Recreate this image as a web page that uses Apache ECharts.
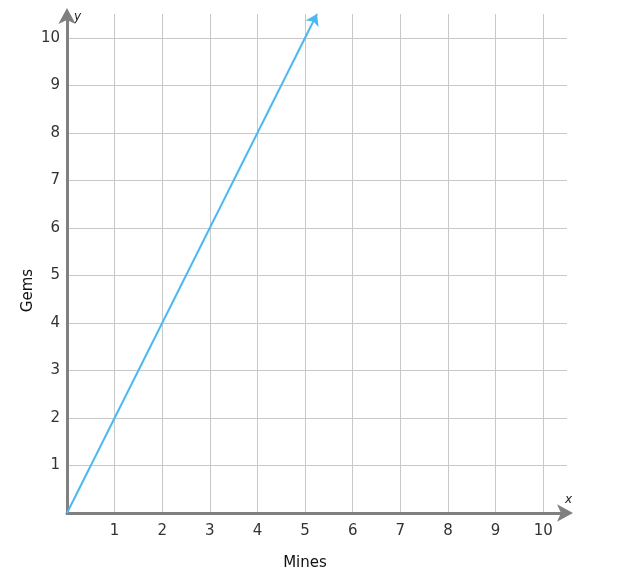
<!DOCTYPE html>
<html>
<head>
<meta charset="utf-8">
<script src="https://cdn.jsdelivr.net/npm/echarts@6/dist/echarts.min.js"></script>
<style>html,body{margin:0;padding:0;background:#fff}#c{width:640px;height:579px}</style>
</head>
<body>
<div id="c"></div>
<script>
const xTicks = [0,1,2,3,4,5,6,7,8,9,10];
const yTicks = [0,1,2,3,4,5,6,7,8,9,10];
const axisMax = 10.5;
const lineStart = [0, 0];
const lineEnd = [5.25, 10.5];
const xTitle = 'Mines';
const yTitle = 'Gems';

const chart = echarts.init(document.getElementById('c'));
const font = 'DejaVu Sans, Verdana, sans-serif';
const fmtX = v => (v !== 0 && xTicks.includes(v)) ? String(v) : '';
const fmtY = v => (v !== 0 && yTicks.includes(v)) ? String(v) : '';
chart.setOption({
  animation: false,
  grid: {left: 67, top: 14, right: 73, bottom: 66, containLabel: false},
  xAxis: [{
    type: 'value', min: 0, max: axisMax, interval: 1,
    name: 'x', nameLocation: 'end', nameGap: -2,
    nameTextStyle: {fontStyle: 'italic', fontSize: 12, color: '#222', fontFamily: font, verticalAlign: 'bottom', padding: [0,0,7,0]},
    axisLine: {show: true, lineStyle: {color: '#808080', width: 3}, symbol: ['none','arrow'], symbolSize: [13, 16], symbolOffset: [0, 6]},
    axisTick: {show: false},
    axisLabel: {formatter: fmtX, color: '#333', fontSize: 15, fontFamily: font, margin: 11, showMaxLabel: false, showMinLabel: false},
    splitLine: {show: true, showMinLine: false, showMaxLine: false, lineStyle: {color: '#c8c8c8', width: 1}}
  }, {
    type: 'value', min: 0, max: axisMax, position: 'bottom',
    name: xTitle, nameLocation: 'middle', nameGap: 43,
    nameTextStyle: {fontSize: 15, color: '#111', fontFamily: font, padding: [0, 24, 0, 0]},
    axisLine: {show: false}, axisTick: {show: false}, axisLabel: {show: false}, splitLine: {show: false}
  }],
  yAxis: [{
    type: 'value', min: 0, max: axisMax, interval: 1,
    name: 'y', nameLocation: 'end', nameGap: -9,
    nameTextStyle: {fontStyle: 'italic', fontSize: 12, color: '#222', fontFamily: font, align: 'left', padding: [0,0,0,7]},
    axisLine: {show: true, lineStyle: {color: '#808080', width: 3}, symbol: ['none','arrow'], symbolSize: [13, 16], symbolOffset: [0, 6]},
    axisTick: {show: false},
    axisLabel: {formatter: fmtY, color: '#333', fontSize: 15, fontFamily: font, margin: 7, showMaxLabel: false, showMinLabel: false},
    splitLine: {show: true, showMinLine: false, showMaxLine: false, lineStyle: {color: '#c8c8c8', width: 1}}
  }, {
    type: 'value', min: 0, max: axisMax, position: 'left',
    name: yTitle, nameLocation: 'middle', nameGap: 31,
    nameTextStyle: {fontSize: 15, color: '#111', fontFamily: font, padding: [0, 54, 0, 0]},
    axisLine: {show: false}, axisTick: {show: false}, axisLabel: {show: false}, splitLine: {show: false}
  }],
  series: [{
    type: 'lines', coordinateSystem: 'cartesian2d',
    symbol: ['none', 'arrow'], symbolSize: 11,
    lineStyle: {color: '#4bb8f2', width: 2, opacity: 1},
    data: [{coords: [lineStart, lineEnd]}]
  }]
});
</script>
</body>
</html>
